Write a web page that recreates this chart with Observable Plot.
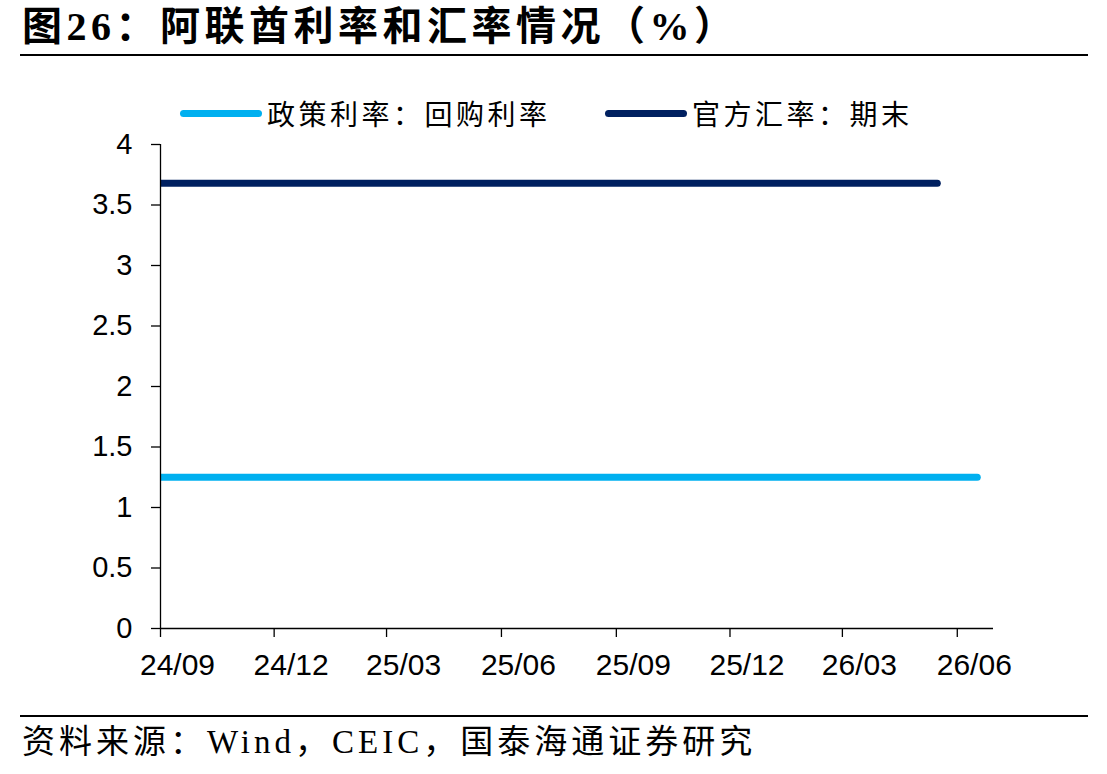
<!DOCTYPE html>
<html>
<head>
<meta charset="utf-8">
<script src="https://cdn.jsdelivr.net/npm/d3@7"></script>
<script src="https://cdn.jsdelivr.net/npm/@observablehq/plot@0.6"></script>
<style>
  html, body { margin: 0; padding: 0; background: #fff; }
  #wrap { position: relative; width: 1107px; height: 774px; overflow: hidden; background: #fff; }
  .title { position: absolute; left: 22px; top: 4px; font-family: "Liberation Serif", "Noto Sans CJK SC", serif; font-weight: 700; font-size: 40px; letter-spacing: 4.5px; color: #000; white-space: nowrap; line-height: 46px; }
  .rule { position: absolute; left: 20px; width: 1068px; height: 2px; background: #000; }
  .legend { position: absolute; top: 94px; height: 38px; display: flex; align-items: center; font-family: "Noto Sans CJK SC", sans-serif; font-size: 28px; letter-spacing: 3.5px; color: #000; white-space: nowrap; }
  .sw { width: 82px; height: 7px; border-radius: 4px; margin-right: 5px; }
  .src { position: absolute; left: 22px; top: 721px; font-family: "Liberation Serif", "Noto Sans CJK SC", serif; font-size: 33px; letter-spacing: 4px; color: #000; white-space: nowrap; line-height: 42px; }
  #chart { position: absolute; left: 0; top: 130px; }
</style>
</head>
<body>
<div id="wrap">
  <div class="title">图26：阿联酋利率和汇率情况（%）</div>
  <div class="rule" style="top:54px"></div>
  <div id="legend"></div>
  <div id="chart"></div>
  <div class="rule" style="top:715px"></div>
  <div class="src">资料来源：Wind，CEIC，国泰海通证券研究</div>
</div>
<script>
// Series names and colours
const seriesNames = ["政策利率：回购利率", "官方汇率：期末"];
const seriesColors = ["#00b0f0", "#002060"];

// Policy rate (repo rate), %
const rateDates = ["2024-09-01", "2026-06-17"];
const rateValues = [1.25, 1.25];

// Official exchange rate, end of period
const fxDates = ["2024-09-01", "2026-05-16"];
const fxValues = [3.68, 3.68];

// Axis ticks
const xTickDates = ["2024-09-01", "2024-12-01", "2025-03-01", "2025-06-01", "2025-09-01", "2025-12-01", "2026-03-01", "2026-06-01"];
const xTickLabels = ["24/09", "24/12", "25/03", "25/06", "25/09", "25/12", "26/03", "26/06"];
const yTicks = [0, 0.5, 1, 1.5, 2, 2.5, 3, 3.5, 4];
const xDomain = ["2024-09-01", "2026-06-30"];
const yDomain = [0, 4];

const parse = d3.utcParse("%Y-%m-%d");
const rows = [];
rateDates.forEach((d, i) => rows.push({series: seriesNames[0], date: parse(d), value: rateValues[i]}));
fxDates.forEach((d, i) => rows.push({series: seriesNames[1], date: parse(d), value: fxValues[i]}));

// legend
const legendLeft = [180, 605];
const legend = document.getElementById("legend");
seriesNames.forEach((name, i) => {
  const el = document.createElement("div");
  el.className = "legend";
  el.style.left = legendLeft[i] + "px";
  el.innerHTML = `<div class="sw" style="background:${seriesColors[i]}"></div><span>${name}</span>`;
  legend.appendChild(el);
});

const chart = Plot.plot({
  width: 1107,
  height: 570,
  marginLeft: 160,
  marginRight: 114,
  marginTop: 14,
  marginBottom: 72,
  style: {fontFamily: "'Liberation Sans', Arial, sans-serif", fontSize: "29px", color: "#000", background: "transparent", overflow: "visible"},
  x: {type: "utc", domain: xDomain.map(parse)},
  y: {domain: yDomain},
  color: {domain: seriesNames, range: seriesColors},
  marks: [
    Plot.line(rows, {x: "date", y: "value", z: "series", stroke: "series", strokeWidth: 7, strokeLinecap: "round", clip: true}),
    Plot.ruleY([0], {stroke: "#000", strokeWidth: 1.3}),
    Plot.ruleX([parse(xDomain[0])], {y1: yDomain[0], y2: yDomain[1], stroke: "#000", strokeWidth: 1.3}),
    Plot.axisX({ticks: xTickDates.map(parse), tickFormat: () => "", tickSize: 9, label: null, strokeWidth: 1.3}),
    Plot.axisX({ticks: xTickDates.map(parse), tickFormat: (d, i) => xTickLabels[i], tickSize: 0, tickPadding: 25, dx: 17, fontSize: 30, label: null}),
    Plot.axisY({ticks: yTicks, tickFormat: d => String(d), tickSize: 9, tickPadding: 19, label: null, strokeWidth: 1.3})
  ]
});
document.getElementById("chart").appendChild(chart);
</script>
</body>
</html>
